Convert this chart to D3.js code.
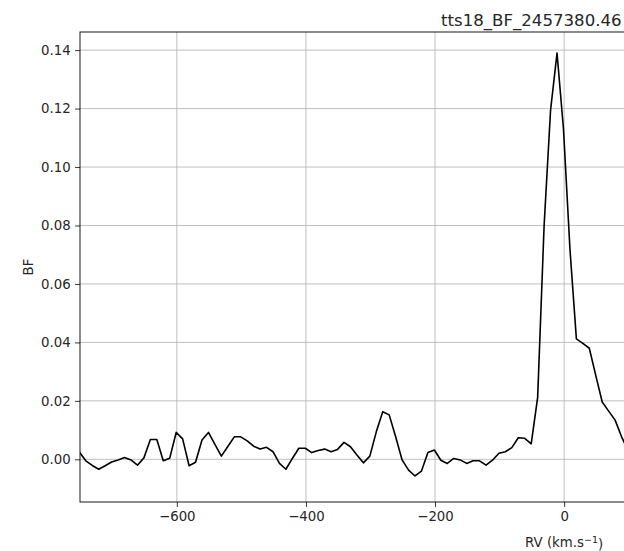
<!DOCTYPE html>
<html>
<head>
<meta charset="utf-8">
<script src="https://cdn.jsdelivr.net/npm/d3@7"></script>
<style>
  html, body { margin: 0; padding: 0; background: #fff; }
  svg { display: block; font-family: "DejaVu Sans", sans-serif; }
</style>
</head>
<body>
<svg id="chart" width="624" height="551"></svg>
<script>
// ---- data ----
const rv = [
  -751, -741, -731, -721, -711, -701, -691, -681, -671, -661,
  -651, -641, -631, -621, -611, -601, -591, -581, -571, -561,
  -551, -541, -531, -521, -511, -501, -491, -481, -471, -461,
  -451, -441, -431, -421, -411, -401, -391, -381, -371, -361,
  -351, -341, -331, -321, -311, -301, -291, -281, -271, -261,
  -251, -241, -231, -221, -211, -201, -191, -181, -171, -161,
  -151, -141, -131, -121, -111, -101, -91, -81, -71, -61,
  -51, -41, -31, -21, -11, -1, 9, 19, 29, 39,
  49, 59, 69, 79, 89, 99
];
const bf = [
  0.0025, -0.0005, -0.0021, -0.0034, -0.0022, -0.0009, -0.0002, 0.0006, -0.0002, -0.0020,
  0.0005, 0.0068, 0.0068, -0.0005, 0.0004, 0.0092, 0.0070, -0.0022, -0.0010, 0.0066,
  0.0092, 0.0051, 0.0011, 0.0044, 0.0077, 0.0077, 0.0063, 0.0045, 0.0035, 0.0041,
  0.0026, -0.0014, -0.0034, 0.0003, 0.0038, 0.0038, 0.0023, 0.0030, 0.0035, 0.0026,
  0.0034, 0.0058, 0.0043, 0.0015, -0.0012, 0.0011, 0.0094, 0.0163, 0.0152, 0.0077,
  -0.0002, -0.0037, -0.0057, -0.0040, 0.0023, 0.0032, -0.0003, -0.0014, 0.0003, -0.0002,
  -0.0014, -0.0005, -0.0005, -0.0020, -0.0003, 0.0021, 0.0026, 0.0040, 0.0074, 0.0072,
  0.0053, 0.0212, 0.0800, 0.1195, 0.1390, 0.1130, 0.0720, 0.0412, 0.0397, 0.0380,
  0.0287, 0.0196, 0.0165, 0.0134, 0.0077, 0.0030
];
const xTicks = [-600, -400, -200, 0];
const yTicks = [0.00, 0.02, 0.04, 0.06, 0.08, 0.10, 0.12, 0.14];
const titleText = "tts18_BF_2457380.46";
const xLabelMain = "RV (km.s";
const xLabelSup = "\u22121";
const yLabelText = "BF";

// ---- layout ----
const svg = d3.select("#chart");
const mLeft = 80, mTop = 32, mBottom = 502;
const pxPerUnit = 0.6455;
const mRight = mLeft + 1500 * pxPerUnit;

const x = d3.scaleLinear().domain([-750, 750]).range([mLeft, mRight]);
const y = d3.scaleLinear().domain([-0.0146, 0.1462]).range([mBottom, mTop]);

const textColor = "#262626";

svg.append("defs").append("clipPath").attr("id", "clip")
  .append("rect").attr("x", mLeft).attr("y", mTop)
  .attr("width", mRight - mLeft).attr("height", mBottom - mTop);

// grid
const grid = svg.append("g");
grid.selectAll(".gx").data(xTicks).join("line")
  .attr("x1", d => x(d)).attr("x2", d => x(d))
  .attr("y1", mTop).attr("y2", mBottom)
  .attr("stroke", "#b0b0b0").attr("stroke-width", 0.8);
grid.selectAll(".gy").data(yTicks).join("line")
  .attr("x1", mLeft).attr("x2", mRight)
  .attr("y1", d => y(d)).attr("y2", d => y(d))
  .attr("stroke", "#b0b0b0").attr("stroke-width", 0.8);

// line
const pts = rv.map((v, i) => [v, bf[i]]);
svg.append("path")
  .datum(pts)
  .attr("clip-path", "url(#clip)")
  .attr("fill", "none")
  .attr("stroke", "#000")
  .attr("stroke-width", 1.6)
  .attr("stroke-linejoin", "round")
  .attr("d", d3.line().x(d => x(d[0])).y(d => y(d[1])));

// axes
const xAxis = d3.axisBottom(x).tickValues(xTicks).tickSize(4.9).tickPadding(4.5)
  .tickFormat(d3.format("d"));
const gx = svg.append("g").attr("transform", `translate(0,${mBottom})`).call(xAxis);
const yAxis = d3.axisLeft(y).tickValues(yTicks).tickSize(4.9).tickPadding(4.5)
  .tickFormat(d3.format(".2f"));
const gy = svg.append("g").attr("transform", `translate(${mLeft},0)`).call(yAxis);

[gx, gy].forEach(g => {
  g.select(".domain").remove();
  g.selectAll(".tick line").attr("stroke", "#000").attr("stroke-width", 0.8);
  g.selectAll(".tick text").attr("fill", textColor)
    .style("font-family", "DejaVu Sans, sans-serif").style("font-size", "13.3px");
});
gx.selectAll(".tick text").attr("dy", "0.75em");

// frame (spines)
svg.append("rect")
  .attr("x", mLeft).attr("y", mTop)
  .attr("width", mRight - mLeft).attr("height", mBottom - mTop)
  .attr("fill", "none").attr("stroke", "#000").attr("stroke-width", 0.9);

// title
svg.append("text")
  .attr("x", 441).attr("y", 26)
  .attr("fill", textColor)
  .style("font-size", "16.6px")
  .text(titleText);

// x label
const xl = svg.append("text")
  .attr("x", x(0)).attr("y", 547)
  .attr("text-anchor", "middle")
  .attr("fill", textColor)
  .style("font-size", "13.3px");
xl.append("tspan").text(xLabelMain);
xl.append("tspan").attr("dy", "-0.45em").style("font-size", "9.5px").text(xLabelSup);
xl.append("tspan").attr("dy", "0.45em").text(")");

// y label
svg.append("text")
  .attr("transform", `translate(33,${(mTop + mBottom) / 2}) rotate(-90)`)
  .attr("text-anchor", "middle")
  .attr("fill", textColor)
  .style("font-size", "13.3px")
  .text(yLabelText);
</script>
</body>
</html>
